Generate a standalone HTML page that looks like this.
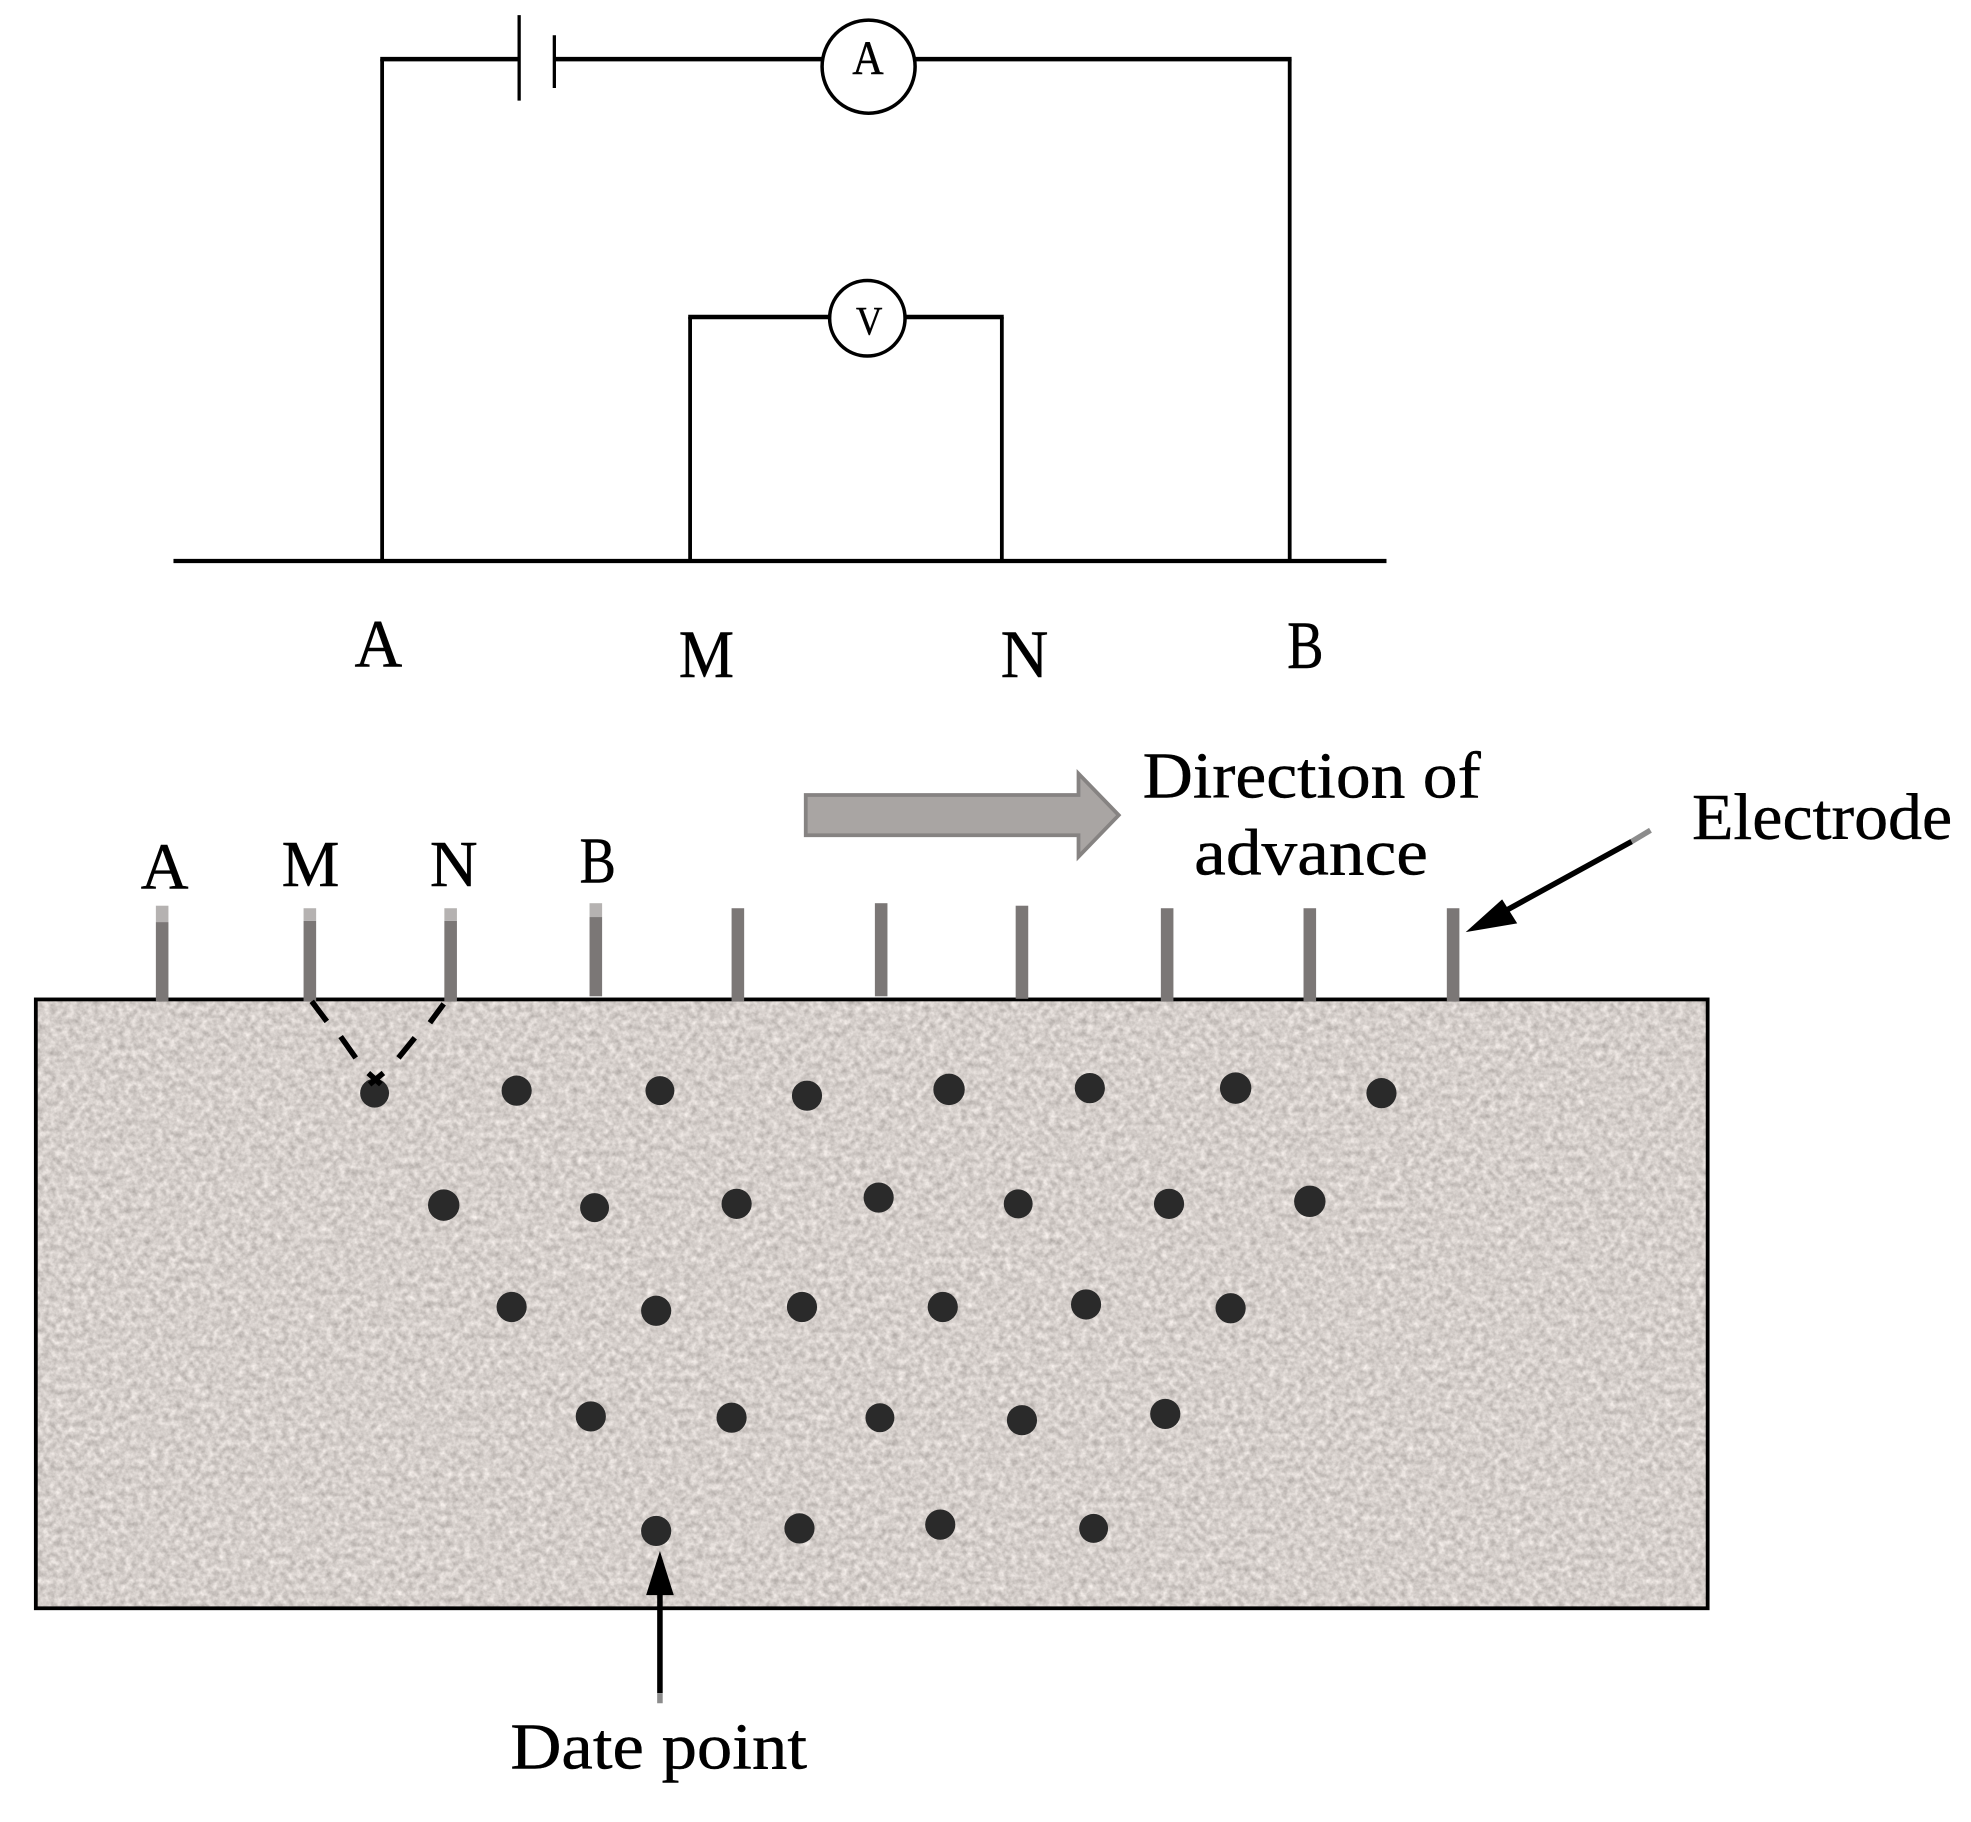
<!DOCTYPE html>
<html>
<head>
<meta charset="utf-8">
<style>
html,body{margin:0;padding:0;background:#fff}
svg{display:block;width:1971px;height:1822px}
text{font-family:"Liberation Serif",serif;fill:#000;stroke:#000;stroke-width:.35px}
</style>
</head>
<body>
<svg xmlns="http://www.w3.org/2000/svg" width="1971" height="1822" viewBox="0 0 1568 1448.4" preserveAspectRatio="none">
<defs>
<filter id="n" x="0" y="0" width="100%" height="100%" color-interpolation-filters="sRGB">
<feTurbulence type="fractalNoise" baseFrequency="0.2" numOctaves="3" seed="7"/>
<feColorMatrix type="matrix" values="0.34 0 0 0 0.665  0.34 0 0 0 0.64  0.34 0 0 0 0.625  0 0 0 0 1"/>
</filter>
</defs>
<rect width="1568" height="1448.4" fill="#fff"/>

<!-- Circuit -->
<g fill="none" stroke="#000">
<path d="M304 446V47" stroke-width="3"/>
<path d="M1026 47V446" stroke-width="3"/>
<path d="M302.500 47H413M441 47H654M728 47H1027.500" stroke-width="3.600"/>
<path d="M413 12V80M441 28V70" stroke-width="2.600"/>
<path d="M138 446H1103" stroke-width="3.400"/>
<path d="M549 446V252M797 252V446" stroke-width="3"/>
<path d="M547.500 252H660M720 252H798.500" stroke-width="3.600"/>
<circle cx="691" cy="53" r="37" stroke-width="2.800" fill="#fff"/>
<circle cx="690" cy="253" r="30" stroke-width="2.800" fill="#fff"/>
</g>
<text x="678" y="59" font-size="38" textLength="25" lengthAdjust="spacingAndGlyphs">A</text>
<text x="681" y="266" font-size="32" textLength="21" lengthAdjust="spacingAndGlyphs">V</text>

<text x="282" y="530" font-size="54" textLength="38" lengthAdjust="spacingAndGlyphs">A</text>
<text x="540" y="538" font-size="54" textLength="44" lengthAdjust="spacingAndGlyphs">M</text>
<text x="796" y="538" font-size="54" textLength="38" lengthAdjust="spacingAndGlyphs">N</text>
<text x="1024" y="531" font-size="54" textLength="29" lengthAdjust="spacingAndGlyphs">B</text>

<!-- Ground block -->
<rect x="28" y="794" width="1331" height="485" filter="url(#n)"/>
<rect x="28.500" y="794.500" width="1330" height="484" fill="none" stroke="#000" stroke-width="3"/>

<!-- Electrodes -->
<g fill="#7b7776">
<rect x="124" y="733" width="10" height="63"/>
<rect x="241.500" y="732" width="10" height="64"/>
<rect x="353.500" y="732" width="10" height="64"/>
<rect x="469" y="729" width="10" height="63"/>
<rect x="582" y="722" width="10" height="74"/>
<rect x="696" y="718" width="10" height="74"/>
<rect x="808" y="720" width="10" height="74"/>
<rect x="923.500" y="722" width="10" height="74"/>
<rect x="1037" y="722" width="10" height="74"/>
<rect x="1151" y="722" width="10" height="74"/>
</g>
<g fill="#b5b2b1">
<rect x="124" y="720" width="10" height="13"/>
<rect x="241.500" y="722" width="10" height="10"/>
<rect x="353.500" y="722" width="10" height="10"/>
<rect x="469" y="718" width="10" height="11"/>
</g>

<!-- Dots -->
<g fill="#2a2a2a">
<circle cx="298" cy="869" r="11.500"/><circle cx="411" cy="867" r="12"/><circle cx="525" cy="867" r="11.500"/><circle cx="642" cy="871" r="12"/><circle cx="755" cy="866" r="12.500"/><circle cx="867" cy="865" r="12"/><circle cx="983" cy="865" r="12.500"/><circle cx="1099" cy="869" r="12"/>
<circle cx="353" cy="958" r="12.500"/><circle cx="473" cy="960" r="11.500"/><circle cx="586" cy="957" r="12"/><circle cx="699" cy="952" r="12"/><circle cx="810" cy="957" r="11.500"/><circle cx="930" cy="957" r="12"/><circle cx="1042" cy="955" r="12.500"/>
<circle cx="407" cy="1039" r="12"/><circle cx="522" cy="1042" r="12"/><circle cx="638" cy="1039" r="12"/><circle cx="750" cy="1039" r="12"/><circle cx="864" cy="1037" r="12"/><circle cx="979" cy="1040" r="12"/>
<circle cx="470" cy="1126" r="12"/><circle cx="582" cy="1127" r="12"/><circle cx="700" cy="1127" r="11.500"/><circle cx="813" cy="1129" r="12"/><circle cx="927" cy="1124" r="12"/>
<circle cx="522" cy="1217" r="12"/><circle cx="636" cy="1215" r="12"/><circle cx="748" cy="1212" r="12"/><circle cx="870" cy="1215" r="11.500"/>
</g>

<!-- Dashed rays -->
<g stroke="#000" stroke-width="4.400" fill="none">
<path d="M248 796L260 812M271 824L283 841M293 853L303 862"/>
<path d="M353 798L342 813M330 825L317 841M305 853L294 862"/>
</g>

<!-- Labels -->
<text x="112" y="706.500" font-size="52" textLength="38" lengthAdjust="spacingAndGlyphs">A</text>
<text x="224" y="704.500" font-size="52" textLength="46" lengthAdjust="spacingAndGlyphs">M</text>
<text x="342" y="704.500" font-size="52" textLength="38" lengthAdjust="spacingAndGlyphs">N</text>
<text x="461" y="701.500" font-size="52" textLength="29" lengthAdjust="spacingAndGlyphs">B</text>

<!-- Direction arrow -->
<path d="M641 632H858V615L890 648L858 681V664H641Z" fill="#a9a5a3" stroke="#868382" stroke-width="3"/>
<text x="909" y="634" font-size="52" textLength="269" lengthAdjust="spacingAndGlyphs">Direction of</text>
<text x="950" y="695" font-size="52" textLength="186" lengthAdjust="spacingAndGlyphs">advance</text>

<!-- Electrode pointer -->
<text x="1346" y="667" font-size="52" textLength="207" lengthAdjust="spacingAndGlyphs">Electrode</text>
<path d="M1313 660L1298 669" stroke="#8c8c8c" stroke-width="4.400"/>
<path d="M1298 669L1194 726" stroke="#000" stroke-width="4.400"/>
<path d="M1166 741L1195 715L1207 734Z" fill="#000"/>

<!-- Data point pointer -->
<path d="M525 1260V1346" stroke="#000" stroke-width="4.400"/>
<path d="M525 1346V1354" stroke="#8c8c8c" stroke-width="4.400"/>
<path d="M525 1233L536 1268H514Z" fill="#000"/>
<text x="406" y="1406" font-size="52" textLength="236" lengthAdjust="spacingAndGlyphs">Date point</text>
</svg>
</body>
</html>
